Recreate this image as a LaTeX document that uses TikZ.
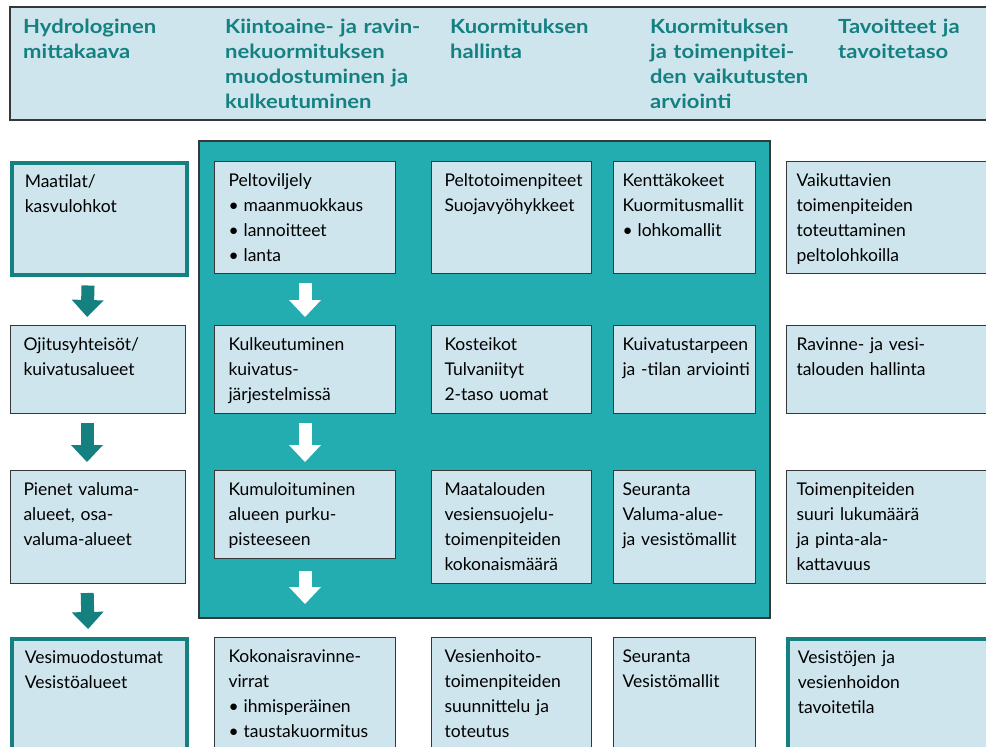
\documentclass[tikz,border=0pt]{standalone}
\usepackage{fontspec}
\setmainfont{Lato}
\newfontfamily\headfont[FakeStretch=1.13]{Lato}
\usetikzlibrary{arrows.meta}
\definecolor{cellblue}{RGB}{206,229,237}
\definecolor{panelteal}{RGB}{35,173,176}
\definecolor{darkteal}{RGB}{20,128,128}
\definecolor{edgegray}{RGB}{55,55,55}
\hyphenpenalty=10000
\exhyphenpenalty=10000

\begin{document}
\begin{tikzpicture}[x=1pt, y=-1pt,
  cell/.style={draw=edgegray, line width=1pt, fill=cellblue, anchor=north west, align=left,
    inner ysep=0pt, text height=25pt, font=\fontsize{17.5}{25}\selectfont},
  goal/.style={draw=darkteal, line width=3.5pt},
  col1/.style={text width=149pt, inner xsep=13pt},
  col2/.style={text width=153pt, inner xsep=14pt},
  col3/.style={text width=134pt, inner xsep=13pt},
  col4/.style={text width=124pt, inner xsep=9pt},
  col5/.style={text width=210pt, inner xsep=10pt},
  row1/.style={text depth=87pt},
  row2/.style={text depth=63pt},
  row3/.style={text depth=88pt},
  row4/.style={text depth=95pt},
  head/.style={anchor=north west, align=left, inner sep=0pt, text height=26pt, text width=200pt,
    text=darkteal, font=\headfont\fontsize{19.5}{25}\selectfont\bfseries},
  down/.style={line width=13pt, -{Triangle[length=17pt, width=32pt, line width=0pt]},
    shorten <=9pt, shorten >=8pt}]
  \useasboundingbox (0,0) rectangle (986,747);
  \clip (0,0) rectangle (986,747);

  % header band
  \draw[fill=cellblue, draw=edgegray, line width=1.5pt] (10,7) rectangle (1000,120);
  \node[head] (h1) at (23,7)  {Hydrologinen\\mittakaava};
  \node[head] (h2) at (225,7) {Kiintoaine- ja ravin-\\nekuormituksen\\muodostuminen ja\\kulkeutuminen};
  \node[head] (h3) at (450,7) {Kuormituksen\\hallinta};
  \node[head] (h4) at (650,7) {Kuormituksen\\ja toimenpitei-\\den vaikutusten\\arviointi};
  \node[head] (h5) at (838,7) {Tavoitteet ja\\tavoitetaso};

  % teal panel
  \filldraw[fill=panelteal, draw=edgegray, line width=1.2pt] (199,141) rectangle (770,618);

  % column 1
  \node[cell, goal, col1, row1] (maat) at (10,161) {Maatilat/\\kasvulohkot};
  \node[cell, col1, row2] (ojit) at (10,325) {Ojitusyhteisöt/\\kuivatusalueet};
  \node[cell, col1, row3] (pien) at (10,470) {Pienet valuma-\\alueet, osa-\\valuma-alueet};
  \node[cell, goal, col1, row4] (vesi) at (10,637) {Vesimuodostumat\\Vesistöalueet};

  % column 2
  \node[cell, col2, row1] (pelto) at (214,161) {Peltoviljely\\•\kern5pt maanmuokkaus\\•\kern5pt lannoitteet\\•\kern5pt lanta};
  \node[cell, col2, row2] (kulk) at (214,325) {Kulkeutuminen\\kuivatus-\\järjestelmissä};
  \node[cell, col2, row2] (kumu) at (214,470) {Kumuloituminen\\alueen purku-\\pisteeseen};
  \node[cell, col2, row4] (koko) at (214,637) {Kokonaisravinne-\\virrat\\•\kern5pt ihmisperäinen\\•\kern5pt taustakuormitus};

  % column 3
  \node[cell, col3, row1] (suoja) at (431,161) {Peltotoimenpiteet\\Suojavyöhykkeet};
  \node[cell, col3, row2] (koste) at (431,325) {Kosteikot\\Tulvaniityt\\2-taso uomat};
  \node[cell, col3, row3] (maata) at (431,470) {Maatalouden\\vesiensuojelu-\\toimenpiteiden\\kokonaismäärä};
  \node[cell, col3, row4] (hoito) at (431,637) {Vesienhoito-\\toimenpiteiden\\suunnittelu ja\\toteutus};

  % column 4
  \node[cell, col4, row1] (kentta) at (613,161) {Kenttäkokeet\\Kuormitusmallit\\•\kern5pt lohkomallit};
  \node[cell, col4, row2] (kuiva) at (613,325) {Kuivatustarpeen\\\mbox{ja -tilan arviointi}};
  \node[cell, col4, row3] (seur) at (613,470) {Seuranta\\Valuma-alue-\\ja vesistömallit};
  \node[cell, col4, row4] (vesmal) at (613,637) {Seuranta\\Vesistömallit};

  % column 5
  \node[cell, col5, row1] (vaik) at (786,161) {Vaikuttavien\\toimenpiteiden\\toteuttaminen\\peltolohkoilla};
  \node[cell, col5, row2] (ravi) at (786,325) {Ravinne- ja vesi-\\talouden hallinta};
  \node[cell, col5, row3] (toim) at (786,470) {Toimenpiteiden\\suuri lukumäärä\\ja pinta-ala-\\kattavuus};
  \node[cell, goal, col5, row4] (tavo) at (786,637) {Vesistöjen ja\\vesienhoidon\\tavoitetila};

  % arrows
  \draw[down, darkteal] ([xshift=-11pt]maat.south) -- ([xshift=-11pt]ojit.north);
  \draw[down, darkteal] ([xshift=-11pt]ojit.south) -- ([xshift=-11pt]pien.north);
  \draw[down, darkteal] ([xshift=-11pt]pien.south) -- ([xshift=-11pt]vesi.north);
  \draw[down, white] (pelto.south) -- (kulk.north);
  \draw[down, white] (kulk.south) -- (kumu.north);
  \draw[down, white, shorten <=12pt, shorten >=33pt] (kumu.south) -- (koko.north);
\end{tikzpicture}
\end{document}
